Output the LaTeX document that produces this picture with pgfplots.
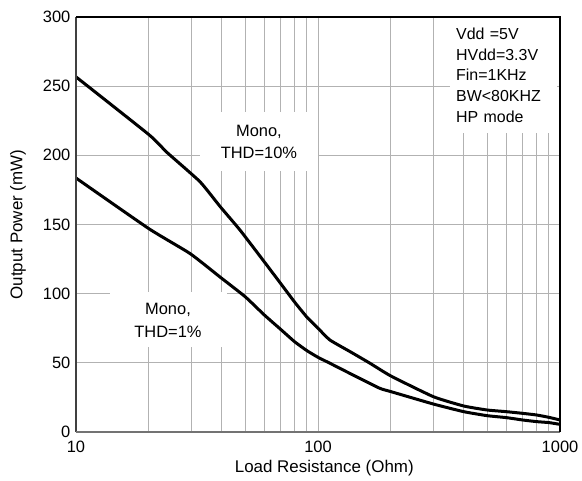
\documentclass[border=0pt]{standalone}
\usepackage{fontspec}
\setmainfont{Liberation Sans}
\usepackage{pgfplots}
\pgfplotsset{compat=1.18}

\begin{document}
\fontsize{16.5}{19.8}\selectfont
\begin{tikzpicture}
  \useasboundingbox (-76bp,-49bp) rectangle (506bp,432bp);
  \begin{axis}[
      at={(0,0)}, anchor=south west,
      scale only axis,
      width=484bp, height=415bp,
      xmode=log, xmin=10, xmax=1000,
      ymin=0, ymax=300,
      xtick={10,100,1000}, xticklabels={10,100,1000},
      minor xtick={20,30,40,50,60,70,80,90,200,300,400,500,600,700,800,900},
      ytick={0,50,100,150,200,250,300},
      xmajorgrids, xminorgrids, ymajorgrids,
      grid style={draw=black!30, line width=1bp},
      minor grid style={draw=black!30, line width=1bp},
      major tick length=0pt, minor tick length=0pt,
      axis line style={draw=none},
      /pgf/number format/assume math mode=true,
      tick label style={font=\fontsize{16.5}{19}\selectfont},
      xticklabel style={yshift=-3bp},
      xlabel={Load Resistance (Ohm)},
      ylabel={Output Power (mW)},
      xlabel style={at={(axis description cs:0.513,-0.088)}, anchor=center,
        font=\fontsize{17}{20}\selectfont},
      ylabel style={at={(axis description cs:-0.12,0.5)}, anchor=center,
        font=\fontsize{17}{20}\selectfont},
    ]
    % THD = 10%
    \addplot[black, line width=3bp, smooth, tension=0.3] coordinates {
      (10,256.7) (20,215) (23.8,202) (32.5,181) (39.4,163) (47.6,146)
      (60,123) (70,107.5) (80,94) (90,83) (100,75) (112,66.5) (136,58)
      (164,49.7) (200,40.5) (300,25.5) (400,18.8) (500,15.9) (600,14.7)
      (700,13.5) (800,12.3) (900,10.6) (1000,8.7)
    };
    % THD = 1%
    \addplot[black, line width=3bp, smooth, tension=0.3] coordinates {
      (10,183.6) (20,147) (29.6,129) (39.4,112) (50,97.8) (60,84.6)
      (70,74.3) (80,65.3) (90,58.8) (100,54) (112,49.7) (144,40)
      (180,31.6) (200,29.2) (300,20.2) (400,14.7) (500,11.8) (600,10.4)
      (700,8.7) (800,7.5) (900,6.8) (1000,5.5)
    };

    \node[fill=white, align=center, inner sep=0pt,
      minimum width=118bp, minimum height=59bp,
      font=\fontsize{16.5}{23}\selectfont] at (axis cs:57,209.7) {Mono,\\THD=10\%};
    \node[fill=white, align=center, inner sep=0pt,
      minimum width=117bp, minimum height=55bp,
      font=\fontsize{16.5}{23}\selectfont] at (axis cs:24,81) {Mono,\\THD=1\%};
    \node[fill=white, anchor=north west, inner xsep=6bp, inner ysep=0pt,
      minimum height=116bp, text width=95bp, align=left,
      font=\fontsize{16}{20.75}\selectfont] at (rel axis cs:0.7727,1)
      {Vdd =5V\\HVdd=3.3V\\Fin=1KHz\\BW<80KHZ\\HP mode};
  \end{axis}
  % frame
  \draw[black!75, line width=2.6bp, line cap=square] (0,0) -- (0,415bp);
  \draw[black!55, line width=2.6bp, line cap=square] (0,0) -- (484bp,0);
  \draw[black, line width=2.6bp, line cap=square] (0,415bp) -- (484bp,415bp) -- (484bp,0);
\end{tikzpicture}
\end{document}
